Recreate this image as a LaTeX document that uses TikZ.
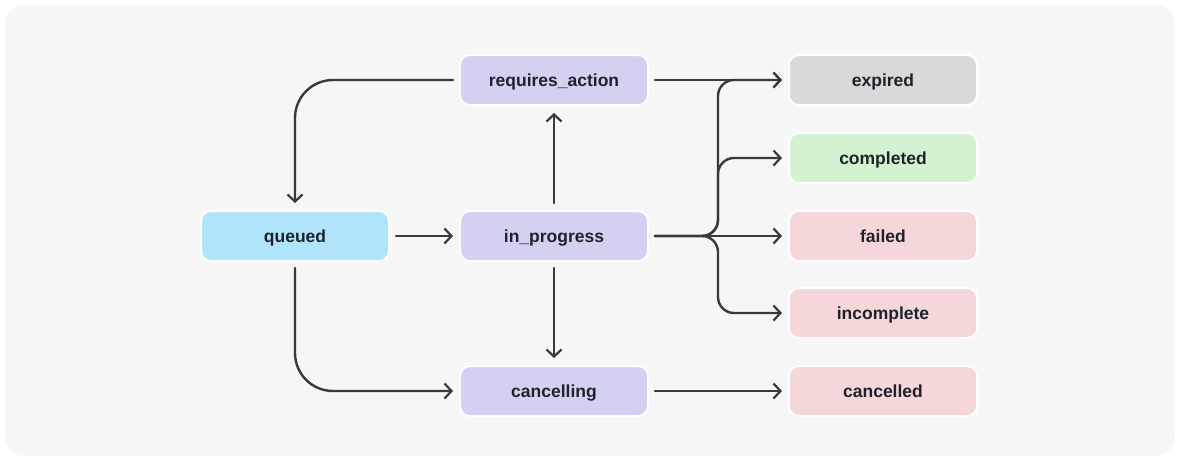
\documentclass[tikz,border=0pt]{standalone}
\usepackage{fontspec}
\setmainfont{Liberation Sans}
\usetikzlibrary{arrows.meta}
\definecolor{bgc}{HTML}{F6F6F6}
\definecolor{txt}{HTML}{1E232B}
\definecolor{linec}{HTML}{3A3A3E}
\definecolor{bluef}{HTML}{B0E4FA}
\definecolor{purf}{HTML}{D4D0F2}
\definecolor{grayf}{HTML}{D9D9D9}
\definecolor{greenf}{HTML}{D3F2D1}
\definecolor{redf}{HTML}{F5D6D9}
\begin{document}
\begin{tikzpicture}[x=1pt,y=-1pt,
  state/.style={rounded corners=10pt, minimum width=188pt, minimum height=50pt,
    draw=white, line width=2pt, inner sep=0pt, text height=15pt, text depth=3pt,
    font=\bfseries\fontsize{17.5}{19}\selectfont, text=txt},
  flow/.style={draw=linec, line width=2.4pt, line cap=round, line join=round,
    -{Straight Barb[length=7pt,width=15pt,line width=2.2pt]}}]
\useasboundingbox (0,0) rectangle (1178,461);
\fill[white] (0,0) rectangle (1178,461);
\fill[bgc, rounded corners=20pt] (5,5) rectangle (1175,456);
% nodes
\node[state, fill=bluef] (qu) at (295,236) {queued};
\node[state, fill=purf] (ra) at (554,80) {requires\_action};
\node[state, fill=purf] (ip) at (554,236) {in\_progress};
\node[state, fill=purf] (ca) at (554,391) {cancelling};
\node[state, fill=grayf] (ex) at (883,80) {expired};
\node[state, fill=greenf] (co) at (883,158) {completed};
\node[state, fill=redf] (fa) at (883,236) {failed};
\node[state, fill=redf] (ic) at (883,313) {incomplete};
\node[state, fill=redf] (cd) at (883,391) {cancelled};
\coordinate (jx) at (718,236);
% connectors
\draw[flow] ([xshift=6pt]qu.east) -- ([xshift=-6pt]ip.west);
\draw[flow] ([yshift=7pt]ip.north) -- ([yshift=-7pt]ra.south);
\draw[flow] ([yshift=-6pt]ip.south) -- ([yshift=7pt]ca.north);
\draw[flow, rounded corners=38pt] ([xshift=-6pt]ra.west) -| ([yshift=7pt]qu.north);
\draw[flow, rounded corners=38pt] ([yshift=-6pt]qu.south) |- ([xshift=-6pt]ca.west);
\draw[flow] ([xshift=6pt]ra.east) -- ([xshift=-6pt]ex.west);
\draw[flow, rounded corners=16pt] ([xshift=6pt]ip.east) -| (jx |- ex.west) -- ([xshift=-6pt]ex.west);
\draw[flow, rounded corners=16pt] ([xshift=6pt]ip.east) -| (jx |- co.west) -- ([xshift=-6pt]co.west);
\draw[flow] ([xshift=6pt]ip.east) -- ([xshift=-6pt]fa.west);
\draw[flow, rounded corners=16pt] ([xshift=6pt]ip.east) -| (jx |- ic.west) -- ([xshift=-6pt]ic.west);
\draw[flow] ([xshift=6pt]ca.east) -- ([xshift=-6pt]cd.west);
\end{tikzpicture}
\end{document}
